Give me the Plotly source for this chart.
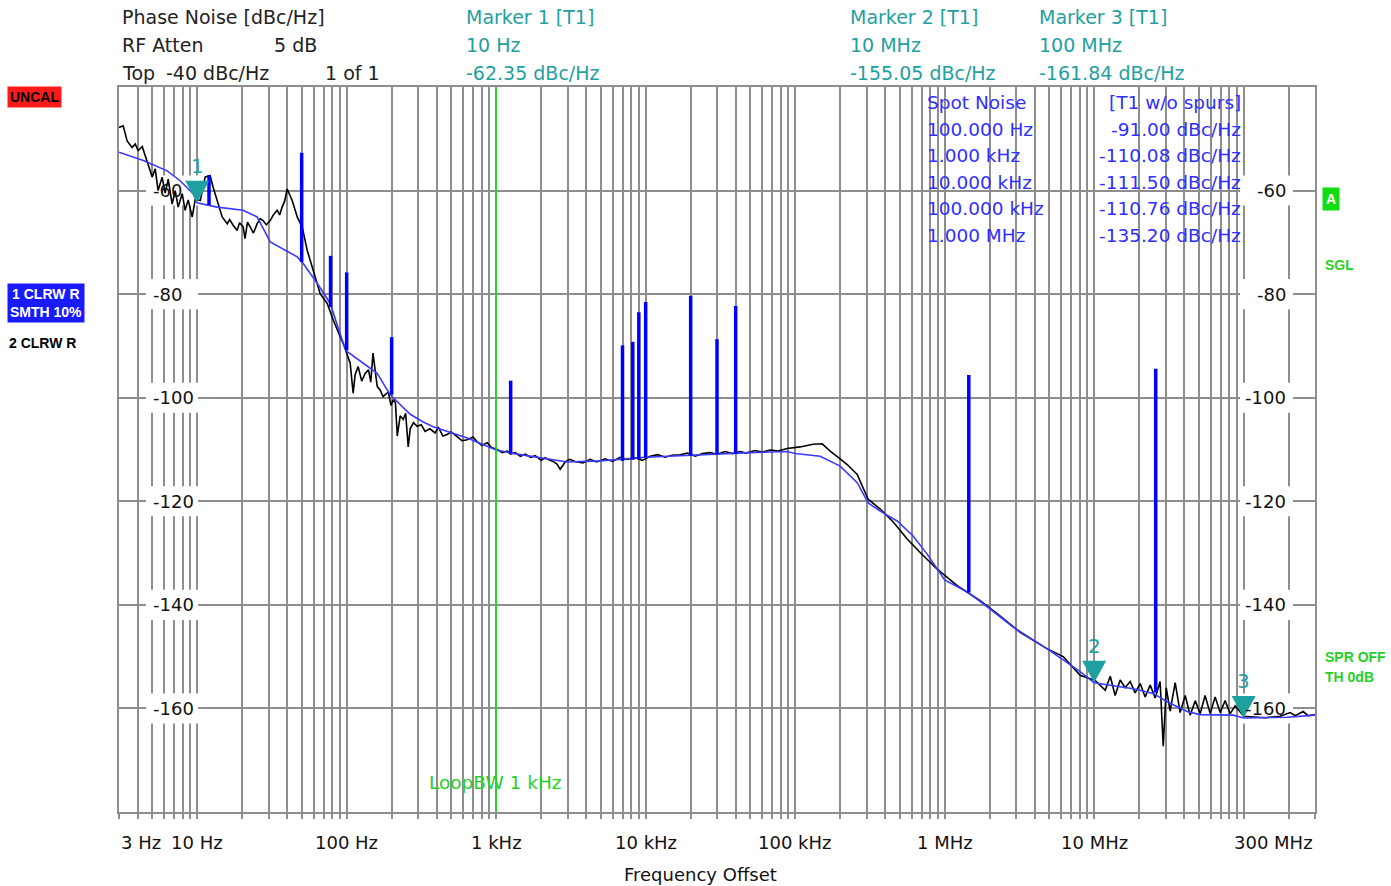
import math
import plotly.graph_objects as go

# ---------------- data ----------------
# Trace 2 (black, raw clear/write)
t2_freq = [3.0, 3.2, 3.4, 3.67, 3.85, 4.03, 4.29, 4.49, 4.70, 5.0,
           5.24, 5.48, 5.83, 6.11, 6.40, 6.80, 7.13, 7.46, 7.94, 8.31,
           8.71, 9.26, 9.70, 10.5, 11.3, 12.2,
           12.8, 13.6, 14.7, 15.9, 16.5, 17.4, 18.5, 19.2, 20.3, 20.9,
           21.7, 22.6, 23.8, 25.2, 26.4, 27.6, 29.0, 30.8, 32.5, 34.3,
           35.6, 37.0, 38.5, 40.0,
           43.2, 46.7, 50.4, 54.4, 59.7, 66.5, 74.1, 81.3, 90.5,
           94.8, 105.5, 110.5, 114, 119.4, 126, 133, 140, 145, 150,
           160, 168, 175, 190, 198, 205, 212, 218, 228, 239,
           248, 258, 266, 280, 296, 315, 335, 360, 391,
           410, 440, 470, 500, 548, 590, 640, 700, 746, 800,
           871, 930, 1016, 1100, 1186, 1250, 1340, 1450, 1563, 1700,
           1824, 2000, 2128, 2250, 2406, 2550, 2680, 2897, 3100, 3377,
           3800, 4253, 4700, 5358, 6000, 6747, 7500, 8506, 9500, 10720,
           12000, 13500, 15000, 17020, 19000, 21430, 24000, 26980, 30000, 34040,
           38000, 42860, 47000, 53950, 60000, 68080, 77000, 88310, 107900, 131800,
           151700, 171400, 200000, 222800, 260000, 307800, 370500, 452900, 561500, 685500,
           891300, 1213000, 1727000, 2244000, 3199000, 4853000, 6209000, 8054000, 10160000, 11860000,
           12810000, 13810000, 14930000, 16110000, 17410000, 18790000, 20320000, 21930000, 23710000, 25590000,
           27610000, 28970000, 30340000, 32210000, 34830000, 37580000, 40640000, 43850000, 47420000, 51170000,
           55210000, 59700000, 64420000, 69660000, 75160000, 81280000, 87700000, 100000000, 110400000, 139300000,
           175400000, 204700000, 221000000, 250000000, 270000000, 300000000]
t2_db = [-47.8, -47.5, -50.4, -51.7, -51.0, -52.3, -51.5, -53.3, -55.2, -57.4,
         -55.8, -60.0, -57.4, -60.5, -57.8, -62.6, -60.0, -63.2, -60.6, -63.8,
         -61.8, -65.1, -61.8, -61.9, -57.4, -57.1,
         -59.4, -61.9, -65.1, -66.4, -65.6, -66.7, -67.7, -66.2, -67.0, -69.3,
         -66.1, -67.0, -68.2, -66.4, -65.4, -65.8, -66.6, -65.8, -64.6, -63.8,
         -64.7, -63.2, -62.0, -59.7,
         -61.9, -65.1, -67.0, -71.5, -75.4, -79.9, -81.8, -85.0, -88.2,
         -89.5, -93.3, -99.1, -95.5, -94.0, -96.8, -95.3, -94.6, -97.0, -91.4,
         -97.8, -98.6, -99.8, -98.9, -101.5, -100.4, -101.0, -107.4, -103.5, -104.2,
         -103.0, -109.5, -106.0, -104.8, -105.5, -105.2, -106.5, -106.0, -106.8,
         -105.7, -107.4, -107.1, -106.6, -107.5, -108.3, -108.1, -107.6, -108.5, -109.2,
         -108.7, -109.6, -110.0, -110.6, -110.3, -110.9, -110.6, -111.3, -110.9, -111.5,
         -111.2, -112.1, -111.6, -112.0, -112.3, -112.8, -113.8, -112.4, -111.9, -112.3,
         -112.6, -111.9, -112.4, -111.8, -112.3, -111.5, -111.9, -111.6, -112.1, -111.3,
         -111.0, -111.5, -111.1, -111.0, -110.7, -111.3, -110.8, -110.6, -110.9, -110.4,
         -110.8, -110.4, -110.7, -110.2, -110.5, -110.1, -110.3, -109.8, -109.5, -109.0,
         -108.9, -110.3, -111.8, -112.9, -114.8, -119.6, -121.5, -124.0, -127.3, -129.9,
         -133.1, -136.3, -139.2, -141.7, -145.3, -148.5, -150.0, -153.6, -154.6, -156.5,
         -153.8, -157.5, -154.5, -156.0, -154.8, -157.0, -155.2, -157.8, -155.5, -158.0,
         -154.8, -167.3, -156.0, -160.5, -155.0, -160.8, -157.5, -161.3, -158.5, -161.0,
         -157.5, -161.0, -157.8, -160.8, -158.5, -161.0, -159.5, -161.5, -161.6, -161.8,
         -161.5, -160.8, -161.4, -160.6, -161.4, -161.2]
assert len(t2_freq) == len(t2_db)

# Trace 1 (blue, smoothed 10 %)
t1_freq = [3.0, 4.36, 6.30, 7.69, 9.40, 10.0, 13.6, 20.3, 25.2, 30.8,
           46.7, 51.2, 63.5, 77.6, 94.8, 100, 160, 195, 266, 325,
           379, 640, 1000, 1380, 2985, 4966, 10000, 23170, 50000, 88310,
           100000, 146900, 200000, 260000, 307800, 370500, 481000, 615200, 763800, 1000000,
           1436000, 2014000, 2871000, 4853000, 8054000, 10000000, 18240000, 24830000, 30760000, 41880000,
           51170000, 85110000, 100000000, 195400000, 300000000]
t1_db = [-52.6, -54.2, -56.2, -58.1, -60.6, -62.35, -63.2, -63.8, -65.1, -69.9,
         -72.8, -74.1, -77.9, -81.8, -89.5, -91.0, -95.3, -99.4, -103.2, -104.7,
         -105.6, -107.8, -110.08, -110.9, -112.4, -112.2, -111.5, -111.0, -110.6, -110.4,
         -110.76, -111.3, -113.2, -116.4, -120.3, -121.9, -123.8, -126.7, -130.2, -135.2,
         -137.6, -140.8, -144.3, -148.5, -152.9, -155.05, -156.2, -157.1, -158.7, -160.6,
         -161.2, -161.3, -161.84, -161.7, -161.3]

# Spurs on trace 1
spur_freq = [12, 50, 78, 100, 200, 1250, 7000, 8200, 9000, 10000, 20000, 30000, 40000, 1450000, 25800000]
spur_top = [-57.0, -52.7, -72.6, -75.8, -88.3, -96.7, -89.9, -89.2, -83.5, -81.5, -80.3, -88.7, -82.3, -95.6, -94.4]
spur_base = [-62.8, -73.8, -82.5, -90.8, -99.4, -110.7, -112.2, -112.0, -111.8, -111.5, -111.2, -110.9, -110.8, -137.6, -156.9]

# Markers
marker_freq = [10, 10e6, 100e6]
marker_db = [-62.35, -155.05, -161.84]
marker_freq_text = ["10 Hz", "10 MHz", "100 MHz"]

# Spot noise table
spot_freq_text = ["100.000 Hz", "1.000 kHz", "10.000 kHz", "100.000 kHz", "1.000 MHz"]
spot_db = [-91.00, -110.08, -111.50, -110.76, -135.20]

# Axis labels
y_labels = [-60, -80, -100, -120, -140, -160]
x_label_vals = [3, 10, 100, 1e3, 1e4, 1e5, 1e6, 1e7, 3e8]
x_label_text = ["3 Hz", "10 Hz", "100 Hz", "1 kHz", "10 kHz", "100 kHz", "1 MHz", "10 MHz", "300 MHz"]
loop_bw = 1000
f_min, f_max = 3, 3e8
db_min, db_max = -180, -40

# ---------------- layout helpers ----------------
W, H = 1391, 886
ML, MR, MT, MB = 119, 76, 87, 74
PW, PH = W - ML - MR, H - MT - MB
LOG0, LOG1 = math.log10(f_min), math.log10(f_max)


def pxx(x):
    return (x - ML) / PW


def pxy(y):
    return (H - MB - y) / PH


def px_to_freq(x):
    # frequency that sits at horizontal pixel x of the page (for label boxes)
    return 10 ** (LOG0 + (x - ML) / PW * (LOG1 - LOG0))


GRID = "#8e8e8e"
TEAL = "#1fa0a0"
SPOT = "#2f2fff"
GREEN = "#27d027"
HDR = "DejaVu Sans"
LBL = "Liberation Sans"
AX = "DejaVu Sans"

fig = go.Figure()

fig.add_trace(go.Scatter(x=t2_freq, y=t2_db, mode="lines",
                         line=dict(color="black", width=1.6), hoverinfo="skip"))
fig.add_trace(go.Scatter(x=t1_freq, y=t1_db, mode="lines",
                         line=dict(color="#3a3aff", width=1.6), hoverinfo="skip"))
sx, sy = [], []
for f, t, b in zip(spur_freq, spur_top, spur_base):
    sx += [f, f, None]
    sy += [b, t, None]
fig.add_trace(go.Scatter(x=sx, y=sy, mode="lines",
                         line=dict(color="#0000ff", width=3.5), hoverinfo="skip"))

ann = []
shapes = []


def text(x, y, s, color="#222222", size=19, font=HDR, anchor="left", bold=False, bg=None, pad=1):
    a = dict(x=pxx(x), y=pxy(y), xref="paper", yref="paper", text=("<b>%s</b>" % s) if bold else s,
             showarrow=False, xanchor=anchor, yanchor="middle",
             font=dict(family=font, size=size, color=color), borderpad=pad)
    if bg:
        a["bgcolor"] = bg
    ann.append(a)


# header
text(120, 17, "Phase Noise [dBc/Hz]")
text(120, 45, "RF Atten")
text(272, 45, "5 dB")
text(120, 73, "Top")
text(164, 73, "-40 dBc/Hz")
text(323, 73, "1 of 1")
for i, xcol in enumerate([464, 848, 1037]):
    text(xcol, 17, "Marker %d [T1]" % (i + 1), color=TEAL)
    text(xcol, 45, marker_freq_text[i], color=TEAL)
    text(xcol, 73, "%.2f dBc/Hz" % marker_db[i], color=TEAL)

# spot noise table
text(925, 102, "Spot Noise", color=SPOT, size=18.5, font=AX)
text(1243, 102, "[T1 w/o spurs]", color=SPOT, size=18.5, font=AX, anchor="right")
for i, (ft, v) in enumerate(zip(spot_freq_text, spot_db)):
    yy = 129 + i * 26.5
    text(925, yy, ft, color=SPOT, size=18.5, font=AX)
    text(1243, yy, "%.2f dBc/Hz" % v, color=SPOT, size=18.5, font=AX, anchor="right")

# left status
text(7, 97, "UNCAL", color="black", size=14, font=LBL, bold=True, bg="#ff1a1a", pad=2)
text(7, 303, "1 CLRW R<br>SMTH 10%", color="white", size=14, font=LBL, bold=True, bg="#1a1aff", pad=2)
text(7, 343, "2 CLRW R", color="black", size=14, font=LBL, bold=True)
# right status
text(1331, 199, "A", color="white", size=14, font=LBL, bold=True, bg="#11dd11", anchor="center", pad=3)
text(1323, 265, "SGL", color=GREEN, size=14, font=LBL, bold=True)
text(1323, 657, "SPR OFF", color=GREEN, size=14, font=LBL, bold=True)
text(1323, 677, "TH 0dB", color=GREEN, size=14, font=LBL, bold=True)

# loop bandwidth
text(495, 782, "LoopBW 1 kHz", color=GREEN, size=18.5, font=AX, anchor="center")

# x labels
for v, s in zip(x_label_vals, x_label_text):
    anc = "center"
    if v == x_label_vals[0]:
        anc = "left"
    elif v == x_label_vals[-1]:
        anc = "right"
    ann.append(dict(x=math.log10(v), y=pxy(842), xref="x", yref="paper", text=s, showarrow=False,
                    xanchor=anc, yanchor="middle", font=dict(family=AX, size=18, color="#111111")))
text(700, 874, "Frequency Offset", color="#111111", size=18, font=AX, anchor="center")

# y labels inside the plot (left and right), with white boxes between grid and traces
for v in y_labels:
    for x0, x1, xt, anc in [(146, 198, 151, "left"), (1240, 1293, 1288, "right")]:
        shapes.append(dict(type="rect", xref="x", yref="y",
                           x0=px_to_freq(x0), x1=px_to_freq(x1),
                           y0=v - 2.9, y1=v + 2.9,
                           fillcolor="white", line=dict(width=0), layer="between"))
        ann.append(dict(x=pxx(xt), y=v, xref="paper", yref="y", text=str(v), showarrow=False,
                        xanchor=anc, yanchor="middle", font=dict(family=AX, size=18, color="#111111")))

# loop bandwidth line
shapes.append(dict(type="line", xref="x", yref="paper", x0=loop_bw, x1=loop_bw, y0=0, y1=1,
                   line=dict(color="#22dd22", width=1.5), layer="above"))

# markers
for i, (f, v) in enumerate(zip(marker_freq, marker_db)):
    shapes.append(dict(type="path", xref="x", yref="y", xsizemode="pixel", ysizemode="pixel",
                       xanchor=f, yanchor=v, path="M -12 22 L 12 22 L 0 0 Z",
                       fillcolor=TEAL, line=dict(width=0), layer="above"))
    ann.append(dict(x=math.log10(f), y=v, xref="x", yref="y", text=str(i + 1), showarrow=False,
                    yshift=37, xanchor="center", yanchor="middle",
                    font=dict(family=HDR, size=20, color=TEAL)))

grid_x = [m * 10 ** e for e in range(0, 9) for m in range(1, 10) if f_min <= m * 10 ** e <= f_max]

fig.update_layout(
    width=W, height=H,
    margin=dict(l=ML, r=MR, t=MT, b=MB, pad=0),
    paper_bgcolor="white", plot_bgcolor="white",
    showlegend=False,
    annotations=ann, shapes=shapes,
    xaxis=dict(type="log", range=[LOG0, LOG1], tickvals=grid_x,
               showticklabels=False, ticks="outside", ticklen=5, tickcolor=GRID, tickwidth=1.5,
               showgrid=True, gridcolor=GRID, gridwidth=1.5, zeroline=False,
               showline=True, mirror=True, linecolor=GRID, linewidth=2),
    yaxis=dict(range=[db_min, db_max], tickvals=y_labels, showticklabels=False, ticks="",
               showgrid=True, gridcolor=GRID, gridwidth=1.5, zeroline=False,
               showline=True, mirror=True, linecolor=GRID, linewidth=2),
)

fig.write_html("out.html", config={"displayModeBar": False},
               post_script="document.body.style.margin='0px';document.body.style.overflow='hidden';")
